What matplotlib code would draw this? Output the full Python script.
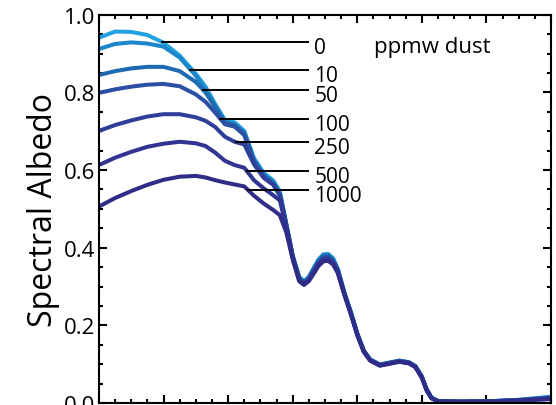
import numpy as np
import matplotlib.pyplot as plt
from matplotlib.ticker import MultipleLocator

plt.rcParams.update({"font.family": ["Open Sans", "DejaVu Sans"], "font.size": 16,
                     "axes.linewidth": 1.5})

# wavelength grid (um): visible / near-IR part where dust matters, then the IR part
wl_vis = [0.40, 0.45, 0.50, 0.55, 0.60, 0.65, 0.70, 0.73, 0.76, 0.79, 0.82, 0.85,
          0.88, 0.91, 0.94, 0.96, 0.98, 1.00]
wl_ir = [1.02, 1.035, 1.05, 1.065, 1.08, 1.095, 1.11, 1.125, 1.14, 1.16, 1.18, 1.20,
         1.22, 1.24, 1.27, 1.30, 1.33, 1.36, 1.38, 1.40, 1.415, 1.43, 1.45, 1.50,
         1.60, 1.70, 1.80]

dust = ["0", "10", "50", "100", "250", "500", "1000"]
vis_0 = [0.941, 0.957, 0.956, 0.948, 0.928, 0.895, 0.848, 0.815, 0.770, 0.729, 0.723, 0.701,
         0.631, 0.593, 0.573, 0.546, 0.462, 0.380]
vis_10 = [0.912, 0.925, 0.929, 0.926, 0.918, 0.890, 0.843, 0.808, 0.766, 0.726, 0.719, 0.697,
          0.627, 0.589, 0.569, 0.542, 0.461, 0.379]
vis_50 = [0.845, 0.855, 0.862, 0.866, 0.866, 0.855, 0.827, 0.800, 0.762, 0.722, 0.716, 0.694,
          0.624, 0.586, 0.566, 0.539, 0.460, 0.378]
vis_100 = [0.799, 0.808, 0.815, 0.820, 0.822, 0.816, 0.795, 0.776, 0.748, 0.718, 0.712, 0.690,
           0.620, 0.583, 0.563, 0.536, 0.459, 0.377]
vis_250 = [0.701, 0.716, 0.728, 0.738, 0.744, 0.744, 0.736, 0.727, 0.711, 0.686, 0.673, 0.666,
           0.615, 0.580, 0.562, 0.535, 0.457, 0.376]
vis_500 = [0.613, 0.632, 0.647, 0.660, 0.668, 0.673, 0.669, 0.662, 0.645, 0.624, 0.613, 0.606,
           0.574, 0.553, 0.535, 0.522, 0.455, 0.375]
vis_1000 = [0.506, 0.528, 0.546, 0.562, 0.575, 0.583, 0.585, 0.581, 0.574, 0.568, 0.563, 0.558,
            0.534, 0.514, 0.497, 0.484, 0.440, 0.370]

ir_0 = [0.325, 0.313, 0.325, 0.348, 0.370, 0.383, 0.384, 0.373, 0.345, 0.285, 0.235, 0.180,
        0.135, 0.112, 0.099, 0.104, 0.109, 0.105, 0.095, 0.068, 0.035, 0.014, 0.005, 0.003,
        0.004, 0.008, 0.016]
ir_10 = [0.324, 0.312, 0.324, 0.346, 0.368, 0.381, 0.382, 0.371, 0.344, 0.284, 0.234, 0.179,
         0.135, 0.112, 0.099, 0.104, 0.109, 0.105, 0.095, 0.068, 0.035, 0.014, 0.005, 0.003,
         0.004, 0.008, 0.015]
ir_50 = [0.322, 0.311, 0.322, 0.344, 0.365, 0.378, 0.379, 0.368, 0.342, 0.283, 0.233, 0.178,
         0.134, 0.111, 0.098, 0.103, 0.108, 0.104, 0.094, 0.067, 0.034, 0.013, 0.005, 0.003,
         0.004, 0.007, 0.014]
ir_100 = [0.320, 0.309, 0.320, 0.341, 0.362, 0.375, 0.376, 0.366, 0.340, 0.282, 0.232, 0.177,
          0.134, 0.111, 0.098, 0.103, 0.108, 0.104, 0.094, 0.067, 0.034, 0.013, 0.005, 0.003,
          0.004, 0.007, 0.013]
ir_250 = [0.318, 0.307, 0.318, 0.338, 0.359, 0.371, 0.372, 0.363, 0.338, 0.281, 0.231, 0.177,
          0.133, 0.110, 0.097, 0.102, 0.107, 0.103, 0.093, 0.066, 0.033, 0.013, 0.005, 0.003,
          0.004, 0.007, 0.012]
ir_500 = [0.316, 0.306, 0.316, 0.336, 0.356, 0.368, 0.369, 0.360, 0.336, 0.280, 0.230, 0.176,
          0.133, 0.110, 0.097, 0.102, 0.107, 0.103, 0.093, 0.066, 0.033, 0.012, 0.004, 0.003,
          0.003, 0.006, 0.011]
ir_1000 = [0.314, 0.304, 0.314, 0.333, 0.353, 0.365, 0.366, 0.357, 0.334, 0.279, 0.229, 0.175,
           0.132, 0.109, 0.096, 0.101, 0.106, 0.102, 0.092, 0.065, 0.032, 0.012, 0.004, 0.003,
           0.003, 0.006, 0.010]

vis = [vis_0, vis_10, vis_50, vis_100, vis_250, vis_500, vis_1000]
ir = [ir_0, ir_10, ir_50, ir_100, ir_250, ir_500, ir_1000]
colors = ["#22a3df", "#1b86c9", "#1f69b1", "#2a4fa3", "#2f3f99", "#313490", "#2f2c88"]

# where each leader line leaves its curve, and where the lines end
lead_wl = [0.596, 0.683, 0.723, 0.776, 0.825, 0.857, 0.863]
lead_end = 1.046
note_wl = 1.252

wl = wl_vis + wl_ir
fig = plt.figure(figsize=(5.56, 4.06), dpi=100)
ax = fig.add_axes([0.178, 0.005, 0.813, 0.956])

for v, r, c in zip(vis, ir, colors):
    ax.plot(wl, v + r, color=c, lw=2.9, solid_joinstyle="round", solid_capstyle="round")

for lab, v, r, lw0 in zip(dust, vis, ir, lead_wl):
    y = np.interp(lw0, wl, v + r)
    ax.plot([lw0, lead_end], [y, y], color="black", lw=1.4)
    ax.annotate(lab, xy=(lead_end, y), xytext=(5, -4), textcoords="offset points",
                va="center", ha="left", fontsize=15)
ax.annotate("ppmw dust", xy=(note_wl, np.interp(lead_wl[0], wl, vis_0 + ir_0)), xytext=(0, -3),
            textcoords="offset points", va="center", ha="left", fontsize=16)

ax.set_xlim(0.4, 1.8)
ax.set_ylim(0.0, 1.0)
ax.xaxis.set_major_locator(MultipleLocator(0.2))
ax.xaxis.set_minor_locator(MultipleLocator(0.05))
ax.yaxis.set_major_locator(MultipleLocator(0.2))
ax.yaxis.set_minor_locator(MultipleLocator(0.05))
ax.yaxis.set_major_formatter(lambda v, p: f"{v:.1f}")
ax.tick_params(which="both", direction="in", top=True, right=True, width=1.5, pad=2.5)
ax.tick_params(which="major", length=6)
ax.tick_params(which="minor", length=3)
ax.set_xlabel("Wavelength (\u00b5m)")
ax.set_ylabel("Spectral Albedo", fontsize=23, labelpad=3)

fig.savefig("out.png", dpi=100)
